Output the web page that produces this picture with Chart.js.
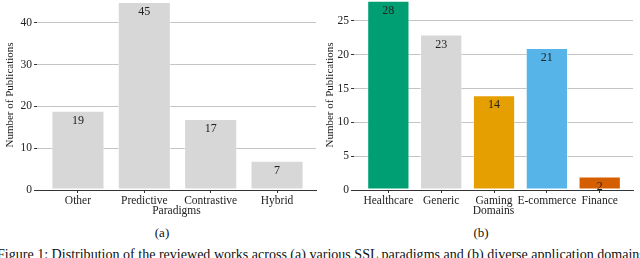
<!DOCTYPE html>
<html>
<head>
<meta charset="utf-8">
<script src="https://cdn.jsdelivr.net/npm/chart.js@4.4.1/dist/chart.umd.min.js"></script>
<style>
  html, body { margin: 0; padding: 0; background: #fff; }
  body { width: 640px; height: 258px; position: relative; overflow: hidden; font-family: "Liberation Serif", "DejaVu Serif", serif; color: #111; }
  .box { position: absolute; top: 0; width: 320px; height: 218px; }
  .sub { position: absolute; top: 225px; font-size: 13px; width: 40px; text-align: center; }
  .cap { position: absolute; top: 246px; left: -3px; font-size: 14.05px; white-space: nowrap; }
</style>
</head>
<body>
<div class="box" style="left:0"><canvas id="paradigmChart"></canvas></div>
<div class="box" style="left:320px"><canvas id="domainChart"></canvas></div>
<div class="sub" style="left:142px">(a)</div>
<div class="sub" style="left:461px">(b)</div>
<div class="cap">Figure 1: Distribution of the reviewed works across (a) various SSL paradigms and (b) diverse application domains.</div>
<script>
// data
const paradigms = ["Other", "Predictive", "Contrastive", "Hybrid"];
const paradigmCounts = [19, 45, 17, 7];
const paradigmTicks = [0, 10, 20, 30, 40];

const domains = ["Healthcare", "Generic", "Gaming", "E-commerce", "Finance"];
const domainCounts = [28, 23, 14, 21, 2];
const domainTicks = [0, 5, 10, 15, 20, 25];

// colours (Okabe-Ito style)
const grayBar = "#d7d7d7";
const domainColors = ["#009E73", grayBar, "#E69F00", "#56B4E9", "#D55E00"];

const serif = "'Liberation Serif', 'DejaVu Serif', serif";

// write the count inside the top of each bar
const barLabels = {
    id: "barLabels",
    afterDatasetsDraw(chart) {
        const ctx = chart.ctx;
        const meta = chart.getDatasetMeta(0);
        ctx.save();
        ctx.font = "12px " + serif;
        ctx.fillStyle = "#222";
        ctx.textAlign = "center";
        ctx.textBaseline = "middle";
        meta.data.forEach((bar, i) => {
            const v = chart.data.datasets[0].data[i].y;
            ctx.fillText(String(v), bar.x, bar.y + 10);
        });
        ctx.restore();
    }
};

function makeChart(id, labels, counts, colors, yTicks, yMax, xMin, xMax, axisW, padRight, xTitle) {
    const ctx = document.getElementById(id).getContext("2d");
    return new Chart(ctx, {
        type: "bar",
        data: {
            datasets: [{
                data: counts.map((v, i) => ({ x: i, y: v })),
                backgroundColor: colors,
                borderColor: "rgba(255,255,255,0.45)",
                borderWidth: 1,
                borderSkipped: false,
                barPercentage: 0.8,
                categoryPercentage: 1.0
            }]
        },
        options: {
            responsive: false,
            animation: false,
            devicePixelRatio: 1,
            layout: { padding: { top: 0, right: padRight, bottom: 0, left: 0 } },
            plugins: {
                legend: { display: false },
                tooltip: { enabled: false }
            },
            scales: {
                x: {
                    type: "linear",
                    offset: false,
                    min: xMin,
                    max: xMax,
                    afterBuildTicks: scale => { scale.ticks = labels.map((l, i) => ({ value: i })); },
                    afterFit: scale => {
                        scale.height = 28;
                        scale.paddingLeft = 0;
                        scale.paddingRight = 0;
                    },
                    border: { display: true, color: "#333", width: 1 },
                    grid: { drawOnChartArea: false, offset: false, tickLength: 3, tickColor: "#333", tickWidth: 1 },
                    ticks: {
                        autoSkip: false,
                        maxRotation: 0,
                        padding: 1,
                        color: "#222",
                        font: { family: serif, size: 11.5 },
                        callback: v => labels[v]
                    },
                    title: {
                        display: true,
                        text: xTitle,
                        color: "#222",
                        font: { family: serif, size: 11.5 },
                        padding: 0
                    }
                },
                y: {
                    min: 0,
                    max: yMax,
                    afterBuildTicks: scale => { scale.ticks = yTicks.map(v => ({ value: v })); },
                    afterFit: scale => {
                        scale.width = axisW;
                        scale.paddingTop = 0;
                        scale.paddingBottom = 0;
                    },
                    border: { display: false },
                    grid: {
                        color: "#b5b5b5",
                        lineWidth: 0.8,
                        borderDash: [1, 1.5],
                        tickLength: 3,
                        tickColor: "#333",
                        tickBorderDash: [],
                        tickWidth: 1
                    },
                    ticks: {
                        padding: 2,
                        color: "#222",
                        font: { family: serif, size: 11.5 }
                    },
                    title: {
                        display: true,
                        text: "Number of Publications",
                        color: "#222",
                        font: { family: serif, size: 11 },
                        padding: { top: 4, bottom: 0 }
                    }
                }
            }
        },
        plugins: [barLabels]
    });
}

function sizeCanvas(id) {
    const c = document.getElementById(id);
    c.width = 320;
    c.height = 218;
    c.style.width = "320px";
    c.style.height = "218px";
}
sizeCanvas("paradigmChart");
sizeCanvas("domainChart");

makeChart("paradigmChart", paradigms, paradigmCounts, paradigms.map(() => grayBar),
    paradigmTicks, 45.5, -0.617, 3.587, 37, 4, "Paradigms");
makeChart("domainChart", domains, domainCounts, domainColors,
    domainTicks, 28.1, -0.65, 4.63, 34, 7, "Domains");
</script>
</body>
</html>
